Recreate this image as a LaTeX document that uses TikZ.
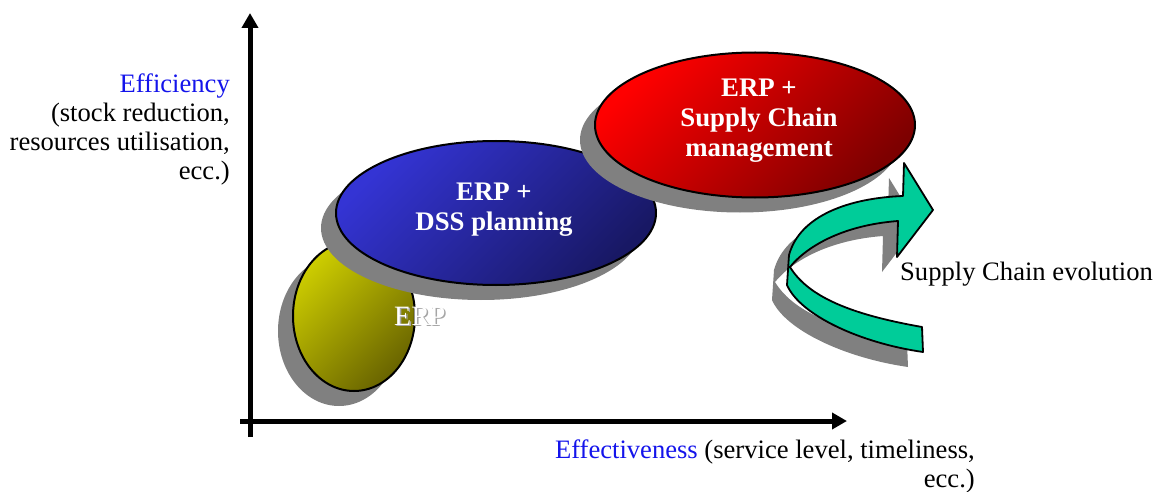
\documentclass[tikz,border=0pt]{standalone}
\usepackage{fontspec}
\setmainfont{Liberation Serif}
\usetikzlibrary{arrows.meta,shapes.geometric,shadows}

\definecolor{shadowgray}{RGB}{128,128,128}
\definecolor{erplight}{RGB}{205,205,0}
\definecolor{erpdark}{RGB}{105,100,0}
\definecolor{dsslight}{RGB}{52,52,212}
\definecolor{dssdark}{RGB}{24,24,100}
\definecolor{scmlight}{RGB}{255,0,0}
\definecolor{scmdark}{RGB}{125,0,0}
\definecolor{evolgreen}{RGB}{0,204,153}
\definecolor{labelblue}{RGB}{20,20,235}

% outline of the curved "evolution" arrow
\newcommand\evolpath{(922,327) .. controls (860,316) and (810,300) .. (790,267)
  .. controls (808,245) and (845,225) .. (898,221) -- (897,257) -- (933,210)
  -- (904,163) -- (903,196) .. controls (850,198) and (800,215) .. (789,255)
  -- (787,285) .. controls (800,315) and (860,343) .. (923,352) -- cycle}

\begin{document}
\begin{tikzpicture}[x=1pt,y=-1pt,
  every node/.style={inner sep=0pt, font=\fontsize{26.6}{29}\selectfont},
  blob/.style={ellipse, draw=black, line width=2pt,
    drop shadow={shadow xshift=-15pt, shadow yshift=-15pt,
      fill=shadowgray, opacity=1}},
  blobtext/.style={align=center, text=white,
    font=\fontsize{26.8}{30}\selectfont\bfseries},
  axis/.style={line width=5pt, -{Triangle[length=15pt,width=16pt]}}]
\useasboundingbox (0,0) rectangle (1165,492);

% axes
\coordinate (yfoot) at (250,437);
\coordinate (ytop) at (250,13);
\coordinate (xfoot) at (240,421);
\coordinate (xtip) at (847,421);
\draw[axis] (yfoot) -- (ytop);
\draw[axis] (xfoot) -- (xtip);

% stages
\node[blob, minimum width=122pt, minimum height=150pt,
  top color=erplight, bottom color=erpdark, shading angle=45] (erp) at (354,316) {};
\node[blob, minimum width=320pt, minimum height=144pt,
  top color=dsslight, bottom color=dssdark, shading angle=45] (dss) at (496,213) {};
\node[blobtext] (dsstext) at ([xshift=-2pt,yshift=3pt]dss.center)
  {ERP +\\DSS planning};
\node[blob, minimum width=320pt, minimum height=145pt,
  top color=scmlight, bottom color=scmdark, shading angle=45] (scm) at (755,125) {};
\node[blobtext] (scmtext) at ([xshift=4pt,yshift=4pt]scm.center)
  {ERP +\\Supply Chain\\management};

% ERP label with its soft shadow
\node[anchor=base west, text=gray!70, font=\fontsize{28}{30}\selectfont] (erpshadow) at (395.5,326.5) {ERP};
\node[anchor=base west, text=white, font=\fontsize{28}{30}\selectfont] (erplabel) at (394,325) {ERP};

% evolution arrow
\fill[shadowgray, shift={(-15,15)}] \evolpath;
\draw[fill=evolgreen, line width=1.8pt, line join=round] \evolpath;
\node[anchor=base west] (evol) at (900,280) {Supply Chain evolution};

% axis captions
\node[anchor=north east, align=right] (ylab) at (230,74)
  {\textcolor{labelblue}{Efficiency}\\(stock reduction,\\resources utilisation,\\ecc.)};
\node[anchor=north east, align=right] (xlab) at (975,440)
  {\textcolor{labelblue}{Effectiveness} (service level, timeliness,\\ecc.)};
\end{tikzpicture}
\end{document}
